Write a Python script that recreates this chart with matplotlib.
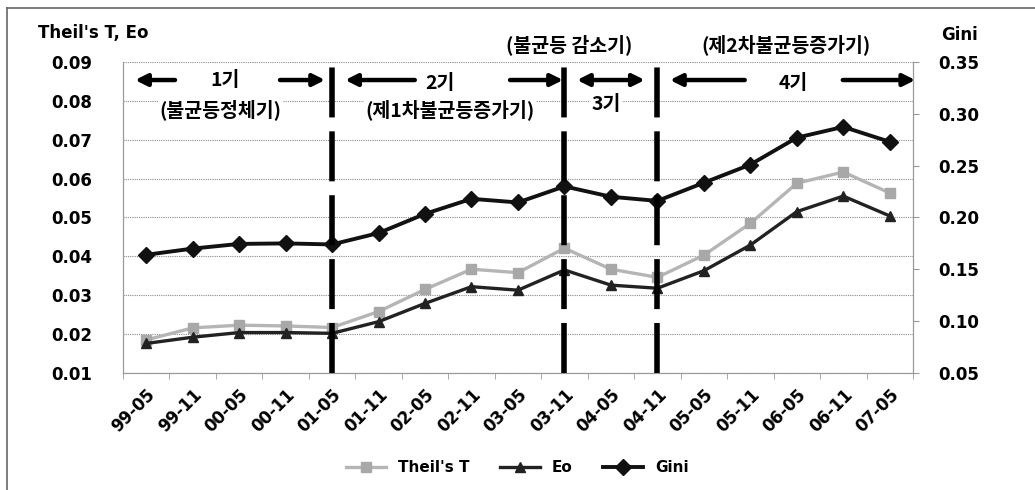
import matplotlib
matplotlib.use("Agg")
import matplotlib.pyplot as plt
from matplotlib.lines import Line2D
import numpy as np

plt.rcParams['font.family'] = ['Noto Sans CJK KR', 'DejaVu Sans']
plt.rcParams['font.weight'] = 'bold'

# half-year periods, May 1999 .. May 2007
periods = ['99-05', '99-11', '00-05', '00-11', '01-05', '01-11', '02-05', '02-11',
           '03-05', '03-11', '04-05', '04-11', '05-05', '05-11', '06-05', '06-11', '07-05']
theil_t = [0.0185, 0.0216, 0.0223, 0.0221, 0.0217, 0.0258, 0.0315, 0.0367, 0.0358,
           0.0421, 0.0367, 0.0346, 0.0403, 0.0485, 0.0588, 0.0617, 0.0563]
eo = [0.0176, 0.0192, 0.0204, 0.0204, 0.0202, 0.0232, 0.0279, 0.0322, 0.0313,
      0.0365, 0.0326, 0.0318, 0.0363, 0.0429, 0.0515, 0.0555, 0.0504]
gini = [0.164, 0.170, 0.1745, 0.175, 0.174, 0.185, 0.2035, 0.218, 0.2145,
        0.230, 0.220, 0.216, 0.2335, 0.251, 0.277, 0.2874, 0.273]

# period boundaries (index of period where a new phase starts)
breaks = [4, 9, 11]

x = np.arange(len(periods))

fig = plt.figure(figsize=(10.35, 4.9), dpi=100)
ax1 = fig.add_axes([0.1188, 0.2388, 0.7633, 0.6347])
ax2 = ax1.twinx()

ax1.set_ylim(0.01, 0.09)
ax1.set_yticks(np.arange(0.01, 0.0901, 0.01))
ax1.set_yticklabels(['%.2f' % v for v in np.arange(0.01, 0.0901, 0.01)], fontsize=12,
                    family='DejaVu Sans', fontweight='bold')
ax2.set_ylim(0.05, 0.35)
ax2.set_yticks(np.arange(0.05, 0.3501, 0.05))
ax2.set_yticklabels(['%.2f' % v for v in np.arange(0.05, 0.3501, 0.05)], fontsize=12,
                    family='DejaVu Sans', fontweight='bold')
ax1.set_xlim(-0.5, len(periods) - 0.5)

ax1.grid(axis='y', color='#8a8a8a', linestyle=(0, (1, 1)), linewidth=0.8)
ax1.set_axisbelow(True)
for ax in (ax1, ax2):
    ax.spines['top'].set_visible(False)
    for s in ('left', 'right', 'bottom'):
        ax.spines[s].set_color('#999999')
        ax.spines[s].set_linewidth(0.8)
ax1.tick_params(axis='y', length=0, pad=22)
ax2.tick_params(axis='y', length=4, color='#999999', pad=14)

ax1.set_xticks(x)
ax1.set_xticklabels(periods, rotation=45, ha='right', rotation_mode='anchor',
                    fontsize=12, family='DejaVu Sans', fontweight='bold')
ax1.tick_params(axis='x', length=0, pad=9)
ax1.set_xticks(np.arange(-0.5, len(periods), 1), minor=True)
ax1.tick_params(axis='x', which='minor', length=4, color='#999999')

ln1, = ax1.plot(x, theil_t, color='#b5b5b5', lw=2.4, marker='s', ms=7,
                mfc='#a8a8a8', mec='#a8a8a8', label="Theil's T", zorder=3)
ln2, = ax1.plot(x, eo, color='#222222', lw=2.4, marker='^', ms=7,
                label='Eo', zorder=4)
ln3, = ax2.plot(x, gini, color='#111111', lw=2.8, marker='D', ms=8,
                label='Gini', zorder=4)

# phase separators
for b in breaks:
    ax2.axvline(b, color='black', lw=4, linestyle=(0, (9, 2.5)), zorder=5)

tr = ax1.get_xaxis_transform()
arrow = dict(arrowstyle='-|>,head_length=0.7,head_width=0.35', lw=3.2, color='black',
             shrinkA=0, shrinkB=0)
arrow2 = dict(arrowstyle='<|-|>,head_length=0.7,head_width=0.35', lw=3.2, color='black',
              shrinkA=0, shrinkB=0)
ya = 0.942
for x0, x1 in [(0.62, -0.24), (2.88, 3.85), (5.78, 4.28), (7.83, 8.97),
               (12.88, 11.27), (14.99, 16.55)]:
    ax2.annotate('', xy=(x1, ya), xytext=(x0, ya), xycoords=tr, textcoords=tr,
                 arrowprops=arrow, annotation_clip=False)
ax2.annotate('', xy=(10.73, ya), xytext=(9.27, ya), xycoords=tr, textcoords=tr,
             arrowprops=arrow2, annotation_clip=False)

box = dict(facecolor='white', edgecolor='none', pad=1)
tkw = dict(transform=tr, ha='center', va='center', fontsize=14, fontweight='bold',
           bbox=box, zorder=6)
ax2.text(1.7, ya, '1기', **tkw)
ax2.text(6.32, ya - 0.01, '2기', **tkw)
ax2.text(9.9, 0.862, '3기', **tkw)
ax2.text(13.92, ya - 0.01, '4기', **tkw)
ax2.text(1.6, 0.846, '(불균등정체기)', **tkw)
ax2.text(6.54, 0.846, '(제1차불균등증가기)', **tkw)
ax2.text(9.1, 1.055, '(불균등 감소기)', **tkw)
ax2.text(13.77, 1.055, '(제2차불균등증가기)', **tkw)

fig.text(0.037, 0.933, "Theil's T, Eo", fontsize=12, fontweight='bold',
         family='DejaVu Sans', ha='left', va='center')
fig.text(0.927, 0.929, 'Gini', fontsize=12, fontweight='bold',
         family='DejaVu Sans', ha='center', va='center')

fig.legend(handles=[ln1, ln2, ln3], loc='center', bbox_to_anchor=(0.5, 0.045),
           ncol=3, frameon=False, handlelength=2.6, columnspacing=2.0,
           prop={'family': 'DejaVu Sans', 'weight': 'bold', 'size': 11})

# frame lines along left and top edges
fig.add_artist(Line2D([0.007, 0.007], [0.0, 0.984], color='#666666', lw=1.2))
fig.add_artist(Line2D([0.007, 1.0], [0.984, 0.984], color='#666666', lw=1.2))

fig.savefig('out.png', dpi=100)
